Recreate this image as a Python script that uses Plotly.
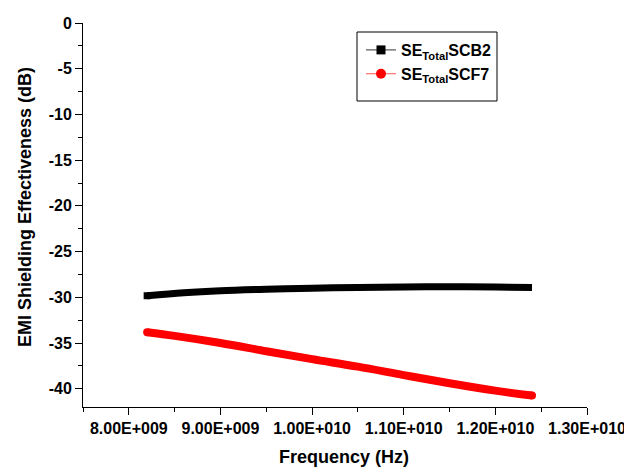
import plotly.graph_objects as go

freq_scb2 = [8.2e9, 8.6e9, 9.0e9, 9.5e9, 10.0e9, 10.5e9, 11.0e9, 11.5e9, 12.0e9, 12.4e9]
se_scb2 = [-29.83, -29.5, -29.28, -29.12, -29.0, -28.92, -28.87, -28.85, -28.88, -28.92]

freq_scf7 = [8.2e9, 8.5e9, 9.0e9, 9.5e9, 10.0e9, 10.5e9, 11.0e9, 11.5e9, 12.0e9, 12.4e9]
se_scf7 = [-33.82, -34.22, -35.0, -35.9, -36.77, -37.59, -38.51, -39.4, -40.21, -40.75]

x_tickvals = [8e9, 9e9, 10e9, 11e9, 12e9, 13e9]
x_ticktext = ["8.00E+009", "9.00E+009", "1.00E+010", "1.10E+010", "1.20E+010", "1.30E+010"]
y_tickvals = [0, -5, -10, -15, -20, -25, -30, -35, -40]
y_ticktext = ["0", "-5", "-10", "-15", "-20", "-25", "-30", "-35", "-40"]

name_scb2 = "SE<sub>Total</sub>SCB2"
name_scf7 = "SE<sub>Total</sub>SCF7"
x_title = "Frequency (Hz)"
y_title = "EMI Shielding Effectiveness (dB)"

font = "Liberation Sans, Arial, sans-serif"

# page body has an 8px default margin; figure is offset by that amount
OFF = 8
W, H = 624, 460
ML, MR, MT, MB = 75, 45, 15, 61
PW, PH = W - ML - MR, H - MT - MB


def px_x(x):
    return (x - OFF - ML) / PW


def px_y(y):
    return (H - MB - (y - OFF)) / PH


fig = go.Figure()
fig.add_trace(go.Scatter(x=freq_scb2, y=se_scb2, mode="lines", line=dict(color="black", width=7, shape="spline"),
                         showlegend=False))
fig.add_trace(go.Scatter(x=freq_scb2[:1], y=se_scb2[:1], mode="markers",
                         marker=dict(symbol="square", color="black", size=7), showlegend=False))
fig.add_trace(go.Scatter(x=freq_scf7, y=se_scf7, mode="lines", line=dict(color="red", width=8, shape="spline"),
                         showlegend=False))
fig.add_trace(go.Scatter(x=[freq_scf7[0], freq_scf7[-1]], y=[se_scf7[0], se_scf7[-1]], mode="markers",
                         marker=dict(symbol="circle", color="red", size=8), showlegend=False))
# legend entries
fig.add_trace(go.Scatter(x=[None], y=[None], mode="lines+markers", name=name_scb2,
                         line=dict(color="#555555", width=1.2),
                         marker=dict(symbol="square", color="black", size=9)))
fig.add_trace(go.Scatter(x=[None], y=[None], mode="lines+markers", name=name_scf7,
                         line=dict(color="#ff7070", width=1.2),
                         marker=dict(symbol="circle", color="red", size=10)))

fig.add_shape(type="rect", xref="paper", yref="paper",
              x0=px_x(357), x1=px_x(497), y0=px_y(101), y1=px_y(32),
              line=dict(color="black", width=1), fillcolor="white", layer="below")

fig.add_annotation(text="<b>" + x_title + "</b>", xref="paper", yref="paper",
                   x=px_x(344), y=px_y(457), showarrow=False, xanchor="center", yanchor="middle",
                   font=dict(family=font, size=18, color="black"))
fig.add_annotation(text="<b>" + y_title + "</b>", xref="paper", yref="paper",
                   x=px_x(25), y=px_y(207), showarrow=False, xanchor="center", yanchor="middle",
                   textangle=-90, font=dict(family=font, size=18, color="black"))

fig.update_layout(
    width=W, height=H,
    margin=dict(l=ML, r=MR, t=MT, b=MB, autoexpand=False),
    paper_bgcolor="white", plot_bgcolor="white",
    font=dict(family=font, color="black"),
    legend=dict(x=px_x(361), y=px_y(33), xanchor="left", yanchor="top",
                borderwidth=0, bgcolor="rgba(0,0,0,0)",
                font=dict(family=font, size=16, color="black", weight="bold"),
                tracegroupgap=0),
    xaxis=dict(range=[7.5e9, 1.3e10], tickvals=x_tickvals, ticktext=["<b>%s</b>" % t for t in x_ticktext],
               automargin=False,
               showgrid=False, zeroline=False, showline=True, linecolor="black", linewidth=1,
               ticks="outside", ticklen=7, tickcolor="black",
               minor=dict(dtick=5e8, tick0=7.5e9, ticks="outside", ticklen=4, tickcolor="black"),
               tickfont=dict(family=font, size=16, color="black")),
    yaxis=dict(range=[-42, 0], tickvals=y_tickvals, ticktext=["<b>%s</b>" % t for t in y_ticktext],
               automargin=False,
               showgrid=False, zeroline=False, showline=True, linecolor="black", linewidth=1,
               ticks="outside", ticklen=7, tickcolor="black",
               minor=dict(dtick=2.5, tick0=0, ticks="outside", ticklen=4, tickcolor="black"),
               tickfont=dict(family=font, size=16, color="black")),
)

fig.write_html("out.html")
